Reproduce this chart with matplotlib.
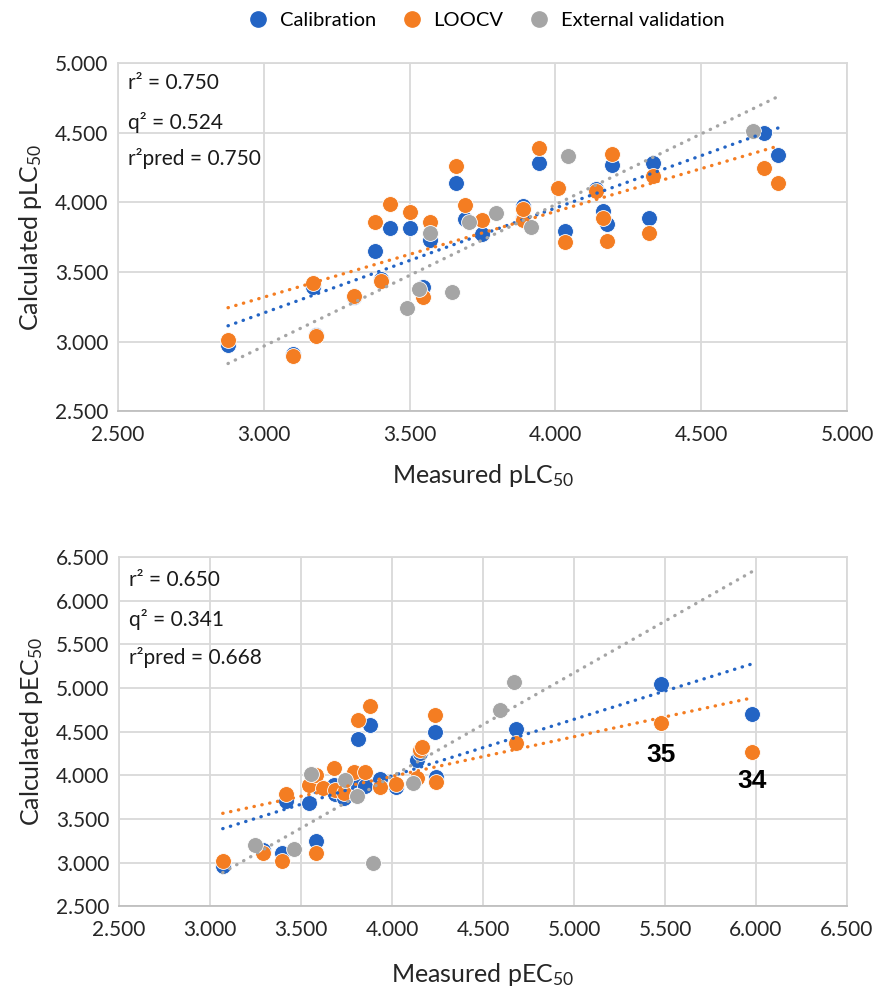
"""Measured vs calculated pLC50 / pEC50 with calibration, LOOCV and
external validation sets, each with a dotted linear trendline."""

import numpy as np
import matplotlib

matplotlib.use("Agg")
import matplotlib.pyplot as plt
from matplotlib.lines import Line2D

# ---- top panel (pLC50) ----
lc_x = [2.877, 3.100, 3.169, 3.178, 3.308, 3.381, 3.403, 3.432, 3.500, 3.546,
        3.571, 3.658, 3.690, 3.748, 3.888, 3.890, 3.943, 4.008, 4.034, 4.139,
        4.162, 4.177, 4.194, 4.320, 4.336, 4.714, 4.764]
lc_cal = [2.974, 2.910, 3.389, 3.050, 3.320, 3.647, 3.446, 3.815, 3.815, 3.389,
          3.730, 4.140, 3.877, 3.770, 3.890, 3.975, 4.284, 4.100, 3.797, 4.097,
          3.940, 3.842, 4.265, 3.890, 4.280, 4.499, 4.339]
lc_loo = [3.010, 2.895, 3.417, 3.039, 3.330, 3.856, 3.434, 3.987, 3.930, 3.320,
          3.860, 4.262, 3.980, 3.870, 3.875, 3.950, 4.392, 4.100, 3.718, 4.080,
          3.890, 3.720, 4.344, 3.778, 4.187, 4.250, 4.140]
lc_ext_x = [3.491, 3.532, 3.571, 3.646, 3.702, 3.797, 3.916, 4.042, 4.678]
lc_ext_y = [3.238, 3.374, 3.780, 3.357, 3.858, 3.925, 3.826, 4.332, 4.511]

# ---- bottom panel (pEC50) ----
ec_x = [3.070, 3.292, 3.393, 3.415, 3.545, 3.580, 3.585, 3.622, 3.680, 3.685,
        3.735, 3.790, 3.815, 3.850, 3.878, 3.935, 4.024, 4.138, 4.152, 4.163,
        4.238, 4.240, 4.679, 5.479, 5.976]
ec_cal = [2.960, 3.140, 3.105, 3.700, 3.685, 3.250, 3.880, 3.850, 3.890, 3.780,
          3.736, 3.950, 4.418, 3.877, 4.573, 3.952, 3.869, 4.172, 4.250, 4.320,
          4.500, 3.984, 4.531, 5.044, 4.703]
ec_loo = [3.017, 3.108, 3.020, 3.784, 3.889, 3.105, 4.003, 3.851, 4.087, 3.830,
          3.795, 4.035, 4.628, 4.035, 4.796, 3.869, 3.895, 3.966, 4.290, 4.328,
          4.692, 3.927, 4.374, 4.596, 4.271]
ec_ext_x = [3.246, 3.462, 3.553, 3.743, 3.807, 3.896, 4.113, 4.593, 4.668]
ec_ext_y = [3.206, 3.158, 4.010, 3.940, 3.758, 2.990, 3.912, 4.752, 5.067]

ticks_lc = [2.5, 3.0, 3.5, 4.0, 4.5, 5.0]
ticks_ec = [2.5, 3.0, 3.5, 4.0, 4.5, 5.0, 5.5, 6.0, 6.5]
stats_lc = ["r\u00b2 = 0.750", "q\u00b2 = 0.524", "r\u00b2pred = 0.750"]
stats_ec = ["r\u00b2 = 0.650", "q\u00b2 = 0.341", "r\u00b2pred = 0.668"]

BLUE = "#2364C4"
ORANGE = "#F47D22"
GRAY = "#A5A5A5"

plt.rcParams["font.family"] = ["Lato", "DejaVu Sans"]
plt.rcParams["mathtext.fontset"] = "custom"
plt.rcParams["mathtext.rm"] = "Lato"
plt.rcParams["mathtext.default"] = "regular"


def trend(ax, x, y, xr, color):
    k, b = np.polyfit(x, y, 1)
    xs = np.array(xr)
    ax.plot(xs, k * xs + b, color=color, lw=2.4, ls=(0, (0.1, 2.3)),
            dash_capstyle="round", zorder=6)


def panel(ax, x, cal, loo, ex, ey, ticks, stats, stat_y, xlab, ylab, xpad):
    ax.scatter(x, cal, s=130, color=BLUE, edgecolors="white", linewidths=0.6, zorder=3)
    ax.scatter(x, loo, s=130, color=ORANGE, edgecolors="white", linewidths=0.6, zorder=4)
    ax.scatter(ex, ey, s=130, color=GRAY, edgecolors="white", linewidths=0.6, zorder=5)
    xr = [min(x), max(x)]
    trend(ax, x, cal, xr, BLUE)
    trend(ax, x, loo, xr, ORANGE)
    trend(ax, ex, ey, xr, GRAY)

    ax.set_xlim(ticks[0], ticks[-1])
    ax.set_ylim(ticks[0], ticks[-1])
    ax.set_xticks(ticks)
    ax.set_yticks(ticks)
    ax.set_xticklabels([f"{t:.3f}" for t in ticks])
    ax.set_yticklabels([f"{t:.3f}" for t in ticks])
    ax.tick_params(length=0, labelsize=15, colors="#262626")
    ax.tick_params(axis="x", pad=10)
    ax.tick_params(axis="y", pad=7)
    ax.grid(True, color="#D9D9D9", lw=1.3)
    ax.set_axisbelow(True)
    for s in ax.spines.values():
        s.set_color("#D9D9D9")
        s.set_linewidth(1.3)
    ax.spines["bottom"].set_color("#BFBFBF")
    ax.set_xlabel(xlab, fontsize=18, color="#262626", labelpad=xpad)
    ax.set_ylabel(ylab, fontsize=18, color="#262626", labelpad=8)
    for txt, yy in zip(stats, stat_y):
        ax.text(0.014, yy, txt, transform=ax.transAxes, fontsize=15,
                va="center", ha="left", color="#1a1a1a", zorder=7)


fig = plt.figure(figsize=(8.75, 9.86), dpi=100)
ax1 = fig.add_axes([0.135, 0.583, 0.833, 0.353])
ax2 = fig.add_axes([0.136, 0.081, 0.832, 0.354])

panel(ax1, lc_x, lc_cal, lc_loo, lc_ext_x, lc_ext_y, ticks_lc, stats_lc,
      [0.943, 0.830, 0.727], r"Measured pLC$_{50}$", r"Calculated pLC$_{50}$", 12)
panel(ax2, ec_x, ec_cal, ec_loo, ec_ext_x, ec_ext_y, ticks_ec, stats_ec,
      [0.934, 0.822, 0.711], r"Measured pEC$_{50}$", r"Calculated pEC$_{50}$", 15)

# compound labels under the two outliers
for idx, lab, off in [(-2, "35", -23), (-1, "34", -21)]:
    ax2.annotate(lab, (ec_x[idx], ec_loo[idx]), xytext=(0, off),
                 textcoords="offset points", ha="center", va="center",
                 fontsize=19, fontweight="bold", family="Liberation Sans", zorder=7)

handles = [Line2D([], [], ls="", marker="o", ms=11, color=c) for c in (BLUE, ORANGE, GRAY)]
fig.legend(handles, ["Calibration", "LOOCV", "External validation"],
           loc="center", bbox_to_anchor=(0.55, 0.979), ncol=3, frameon=False,
           fontsize=14.5, handletextpad=0.05, columnspacing=0.8)

fig.savefig("out.png", dpi=100)
